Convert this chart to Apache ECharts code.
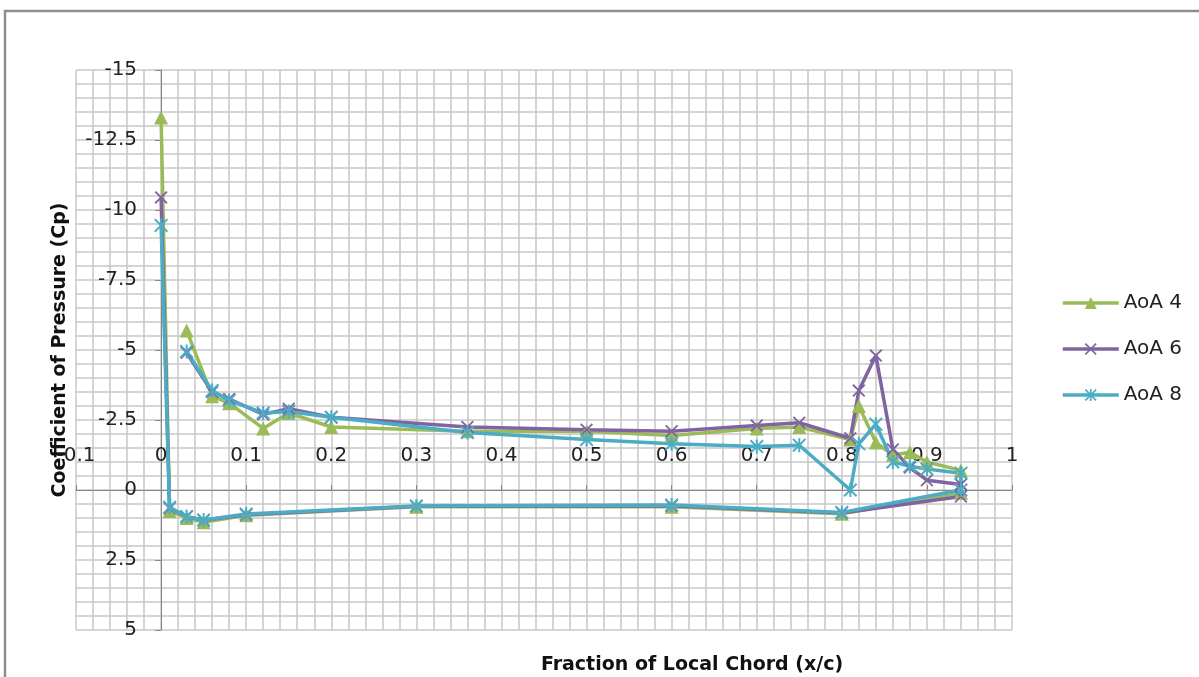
<!DOCTYPE html>
<html>
<head>
<meta charset="utf-8">
<script src="https://cdn.jsdelivr.net/npm/echarts@6/dist/echarts.min.js"></script>
<style>
  html, body { margin: 0; padding: 0; background: #fff; overflow: hidden; }
  #chart { width: 1199px; height: 677px; }
</style>
</head>
<body>
<div id="chart"></div>
<script>
// x/c stations, upper surface then trailing edge then lower surface back to the leading edge
var xc = [0.03, 0.06, 0.08, 0.12, 0.15, 0.2, 0.36, 0.5, 0.6, 0.7, 0.75, 0.81, 0.82, 0.84, 0.86, 0.88, 0.9, 0.94,
          0.94, 0.8, 0.6, 0.3, 0.1, 0.05, 0.03, 0.01, 0];

var cpAoA4 = [-5.7, -3.35, -3.1, -2.2, -2.75, -2.25, -2.1, -2.1, -1.95, -2.2, -2.25, -1.8, -3.0, -1.7, -1.25, -1.35, -1.0, -0.7,
              0.1, 0.85, 0.6, 0.6, 0.9, 1.15, 1.0, 0.75, -13.3];
var cpAoA6 = [-4.9, -3.5, -3.25, -2.7, -2.9, -2.6, -2.25, -2.15, -2.1, -2.3, -2.4, -1.85, -3.55, -4.8, -1.45, -0.8, -0.35, -0.2,
              0.23, 0.82, 0.56, 0.58, 0.88, 1.08, 0.95, 0.65, -10.45];
var cpAoA8 = [-4.95, -3.55, -3.2, -2.75, -2.8, -2.6, -2.05, -1.8, -1.65, -1.55, -1.6, 0.0, -1.65, -2.35, -1.0, -0.85, -0.75, -0.6,
              0.0, 0.8, 0.54, 0.57, 0.86, 1.07, 0.95, 0.62, -9.45];

var seriesNames = ['AoA 4', 'AoA 6', 'AoA 8'];
var seriesColors = ['#9bbb59', '#8064a2', '#4bacc6'];

var crossPath = 'path://M0,1 L1,0 L5,4 L9,0 L10,1 L6,5 L10,9 L9,10 L5,6 L1,10 L0,9 L4,5 Z';
var starPath = 'path://M0,1 L1,0 L5,4 L9,0 L10,1 L6,5 L10,9 L9,10 L5,6 L1,10 L0,9 L4,5 Z M4.3,0 L5.7,0 L5.7,10 L4.3,10 Z';

function pairs(ys) {
  return xc.map(function (x, i) { return [x, ys[i]]; });
}

var font = '"DejaVu Sans", Verdana, sans-serif';
var gridTop = 70, gridLeft = 76, plotH = 560, plotW = 936;

function mkSeries(name, ys, color, symbol, size) {
  return {
    name: name,
    type: 'line',
    data: pairs(ys),
    symbol: symbol,
    symbolSize: size,
    showAllSymbol: true,
    lineStyle: { color: color, width: 3.5 },
    itemStyle: { color: color },
    animation: false
  };
}

var chart = echarts.init(document.getElementById('chart'));
chart.setOption({
  animation: false,
  grid: { left: gridLeft, top: gridTop, width: plotW, height: plotH, outerBoundsMode: 'none' },
  legend: {
    orient: 'vertical',
    left: 1056,
    top: 288,
    itemWidth: 56,
    itemHeight: 15,
    itemGap: 26,
    lineStyle: { width: 3.5 },
    textStyle: { fontFamily: font, fontSize: 20, color: '#222' },
    data: seriesNames
  },
  xAxis: {
    type: 'value',
    min: -0.1,
    max: 1,
    interval: 0.1,
    position: 'top',
    // put the axis on Cp = 0 (15/20 of the way down the plot)
    offset: -plotH * 15 / 20,
    axisLine: { onZero: false, lineStyle: { color: '#868686', width: 1 } },
    axisTick: { show: true, length: 5, lineStyle: { color: '#868686' } },
    axisLabel: { margin: 24, fontFamily: font, fontSize: 20, color: '#222' },
    splitLine: { show: true, lineStyle: { color: '#c8c8c8', width: 1.5 } },
    minorTick: { show: false, splitNumber: 5 },
    minorSplitLine: { show: true, lineStyle: { color: '#c8c8c8', width: 1.5 } }
  },
  yAxis: {
    type: 'value',
    inverse: true,
    min: -15,
    max: 5,
    interval: 2.5,
    position: 'left',
    // put the axis on x/c = 0 (0.1/1.1 of the plot width)
    offset: -plotW * 0.1 / 1.1,
    axisLine: { onZero: false, lineStyle: { color: '#868686', width: 1 } },
    axisTick: { show: true, length: 6, lineStyle: { color: '#868686' } },
    axisLabel: { margin: 24, fontFamily: font, fontSize: 20, color: '#222' },
    splitLine: { show: true, lineStyle: { color: '#c8c8c8', width: 1.5 } },
    minorTick: { show: false, splitNumber: 5 },
    minorSplitLine: { show: true, lineStyle: { color: '#c8c8c8', width: 1.5 } },
    name: 'Coefficient of Pressure (Cp)',
    nameLocation: 'middle',
    nameRotate: 90,
    nameGap: 92,
    nameMoveOverlap: false,
    nameTextStyle: { fontFamily: font, fontSize: 19, fontWeight: 'bold', color: '#111' }
  },
  graphic: [
    {
      type: 'polyline',
      silent: true,
      shape: { points: [[5, 680], [5, 11], [1199, 11]] },
      style: { fill: null, stroke: '#8e8e8e', lineWidth: 2.5 }
    },
    {
      type: 'text',
      silent: true,
      style: {
        text: 'Fraction of Local Chord (x/c)',
        x: 692,
        y: 665,
        textAlign: 'center',
        textVerticalAlign: 'middle',
        font: 'bold 19px ' + font,
        fill: '#111'
      }
    }
  ],
  series: [
    mkSeries(seriesNames[0], cpAoA4, seriesColors[0], 'triangle', 14),
    mkSeries(seriesNames[1], cpAoA6, seriesColors[1], crossPath, 13),
    mkSeries(seriesNames[2], cpAoA8, seriesColors[2], starPath, 14)
  ]
});
</script>
</body>
</html>
